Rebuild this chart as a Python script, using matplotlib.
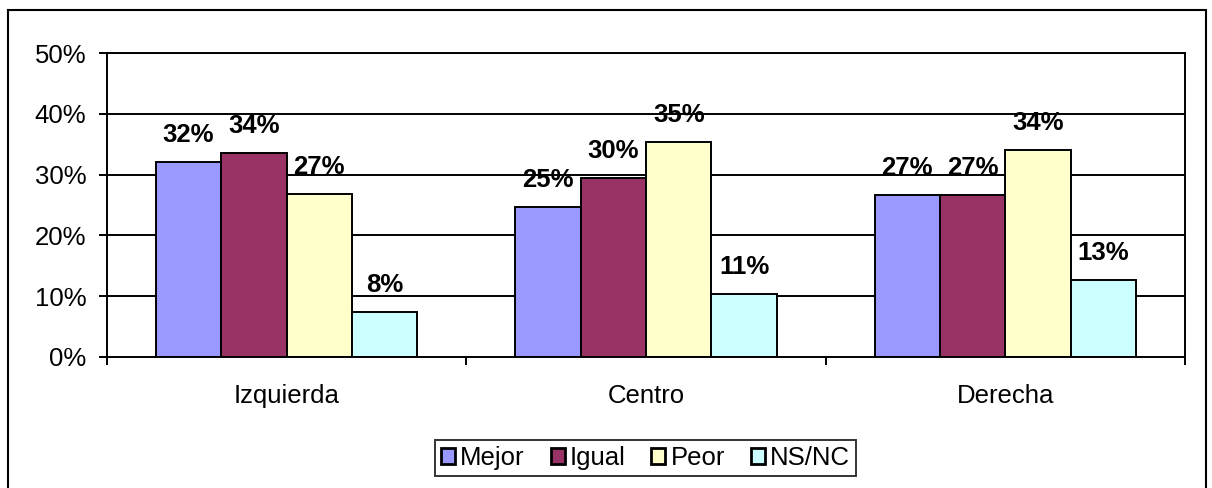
import matplotlib.pyplot as plt
from matplotlib.patches import Rectangle
import numpy as np

plt.rcParams['font.family'] = ['Liberation Sans', 'DejaVu Sans']

categories = ["Izquierda", "Centro", "Derecha"]
series = ["Mejor", "Igual", "Peor", "NS/NC"]
mejor = [32.1, 24.6, 26.7]
igual = [33.6, 29.5, 26.7]
peor = [26.8, 35.4, 34.0]
nsnc = [7.4, 10.4, 12.7]
labels = [["32%", "25%", "27%"],
          ["34%", "30%", "27%"],
          ["27%", "35%", "34%"],
          ["8%", "11%", "13%"]]
colors = ["#9999FF", "#993366", "#FFFFCC", "#CCFFFF"]

W, H = 1212, 488
fs = 18.5
fig = plt.figure(figsize=(W / 100, H / 100), dpi=100)
ax = fig.add_axes([107 / W, (H - 356.7) / H, 1078 / W, 303.4 / H])

lw = 1.4
x = np.arange(len(categories)) + 0.5
bw = 0.182
values = [mejor, igual, peor, nsnc]
for i, (name, vals) in enumerate(zip(series, values)):
    pos = x + (i - 1.5) * bw
    ax.bar(pos, vals, bw, color=colors[i], edgecolor="black", linewidth=lw,
           label=name, zorder=3)
    for px, v, t in zip(pos, vals, labels[i]):
        ax.annotate(t, (px, v), xytext=(0, 14.4), textcoords="offset points",
                    ha="center", va="baseline", fontsize=fs, fontweight="bold",
                    zorder=1)

for yv in [10, 20, 30, 40, 50]:
    ax.axhline(yv, color="black", linewidth=lw, zorder=2)

ax.set_xlim(0, 3)
ax.set_ylim(0, 50)
ax.set_yticks([0, 10, 20, 30, 40, 50])
ax.set_yticklabels(["0%", "10%", "20%", "30%", "40%", "50%"])
ax.tick_params(axis="y", direction="out", length=5.8, width=lw, pad=9,
               labelsize=fs)
ax.set_xticks([0, 1, 2, 3])
ax.set_xticklabels([])
ax.tick_params(axis="x", which="major", direction="out", length=5.8, width=lw)
ax.set_xticks(x, minor=True)
ax.set_xticklabels(categories, minor=True)
ax.tick_params(axis="x", which="minor", length=0, pad=20, labelsize=fs)
for s in ax.spines.values():
    s.set_linewidth(lw)
    s.set_zorder(4)

fig.add_artist(Rectangle((8 / W, -0.1), 1198 / W, (H - 10) / H + 0.1,
                         transform=fig.transFigure, fill=False,
                         edgecolor="black", linewidth=1.5))

leg = fig.legend(loc="center", bbox_to_anchor=(645.5 / W, (H - 458) / H),
                 ncol=4, fontsize=fs, frameon=True, fancybox=False,
                 edgecolor="black", handlelength=0.55, handleheight=0.55,
                 handletextpad=0.2, columnspacing=1.0, borderpad=0.22,
                 borderaxespad=0)
leg.get_frame().set_linewidth(lw)
for h in leg.legend_handles:
    h.set_linewidth(2)

fig.savefig("out.png", dpi=100)
